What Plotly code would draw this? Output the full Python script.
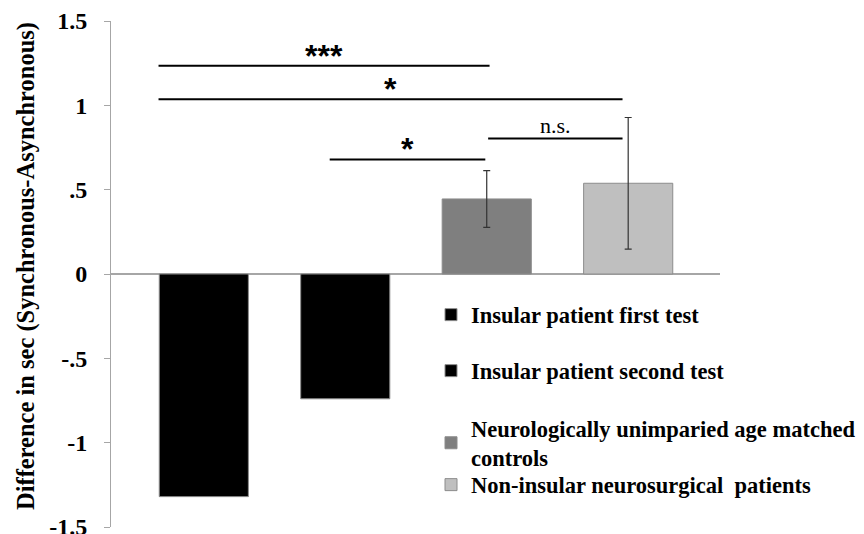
import plotly.graph_objects as go

# ---- data ----
categories = [
    "Insular patient first test",
    "Insular patient second test",
    "Neurologically unimparied age matched<br>controls",
    "Non-insular neurosurgical  patients",
]
values = [-1.32, -0.74, 0.445, 0.538]
errors = [None, None, 0.168, 0.39]
colors = ["#000000", "#000000", "#7f7f7f", "#bfbfbf"]

tick_vals = [1.5, 1, 0.5, 0, -0.5, -1, -1.5]
tick_text = ["1.5", "1", ".5", "0", "-.5", "-1", "-1.5"]
y_title = "Difference in sec (Synchronous-Asynchronous)"

sig_labels = ["***", "*", "*", "n.s."]
sig_x0 = [-0.32, -0.32, 0.89, 2.01]
sig_x1 = [2.02, 2.96, 1.99, 2.96]
sig_y = [1.234, 1.036, 0.679, 0.804]

SERIF = "Liberation Serif"

# layout geometry (pixels); the page body adds an 8px offset
OFF = 8
W, H = 864 - OFF, 534 - OFF
ML, MR, MT, MB = 103, 144, 13, 7
PW = W - ML - MR
PH = H - MT - MB
legend_rows_px = [315, 371, 443, 485]   # screen y of each legend entry centre
legend_left_px = 431                      # screen x of legend box left


def px_to_paper_x(sx):
    return (sx - OFF - ML) / PW


def px_to_paper_y(sy):
    return (H - MB - (sy - OFF)) / PH


fig = go.Figure()
legend_names = ["legend", "legend2", "legend3", "legend4"]
for i, (name, v, e, c) in enumerate(zip(categories, values, errors, colors)):
    err = dict(type="data", array=[e], visible=True, color="#333333",
               thickness=1.2, width=3.5) if e is not None else None
    fig.add_trace(go.Bar(
        x=[i], y=[v], name=name, width=0.63,
        marker=dict(color=c, line=dict(color="#8c8c8c", width=1)),
        error_y=err, legend=legend_names[i],
    ))

for lab, x0, x1, y in zip(sig_labels, sig_x0, sig_x1, sig_y):
    fig.add_shape(type="line", x0=x0, x1=x1, y0=y, y1=y, xref="x", yref="y",
                  line=dict(color="black", width=2))
    is_ns = lab == "n.s."
    fig.add_annotation(
        x=(x0 + x1) / 2, y=y, xref="x", yref="y", text=lab, showarrow=False,
        yanchor="bottom", yshift=-2 if is_ns else -10,
        font=dict(family=SERIF if is_ns else "Liberation Sans",
                  size=22 if is_ns else 32, color="black",
                  weight="normal" if is_ns else "bold"),
    )

# y-axis title
fig.add_annotation(
    x=px_to_paper_x(26), y=px_to_paper_y(266), xref="paper", yref="paper",
    text=y_title, textangle=-90, showarrow=False,
    xanchor="center", yanchor="middle",
    font=dict(family=SERIF, size=24.5, color="black", weight="bold"),
)

leg_font = dict(family=SERIF, size=22.5, color="black", weight="bold")
legends = {}
for name, py in zip(legend_names, legend_rows_px):
    legends[name] = dict(
        x=(legend_left_px - OFF) / W, y=1 - (py - OFF) / H,
        xanchor="left", yanchor="middle",
        xref="container", yref="container", font=leg_font,
        bgcolor="rgba(0,0,0,0)", borderwidth=0,
    )

fig.update_layout(
    width=W, height=H,
    margin=dict(l=ML, r=MR, t=MT, b=MB, autoexpand=False),
    paper_bgcolor="white", plot_bgcolor="white",
    barmode="overlay",
    showlegend=True,
    **legends,
    xaxis=dict(range=[-0.656, 3.649], showticklabels=False, showgrid=False,
               zeroline=False, showline=False, ticks="", automargin=False),
    yaxis=dict(
        range=[-1.5, 1.5], tickvals=tick_vals, ticktext=tick_text,
        automargin=False, ticklabeloverflow="allow",
        showgrid=False, showline=True, linecolor="#a6a6a6", linewidth=1,
        ticks="outside", ticklen=6, tickcolor="#a6a6a6",
        zeroline=True, zerolinecolor="#a6a6a6", zerolinewidth=1.5,
        tickfont=dict(family=SERIF, size=24, color="black", weight="bold"),
        ticklabelstandoff=12,
    ),
)

fig.write_html("out.html")
